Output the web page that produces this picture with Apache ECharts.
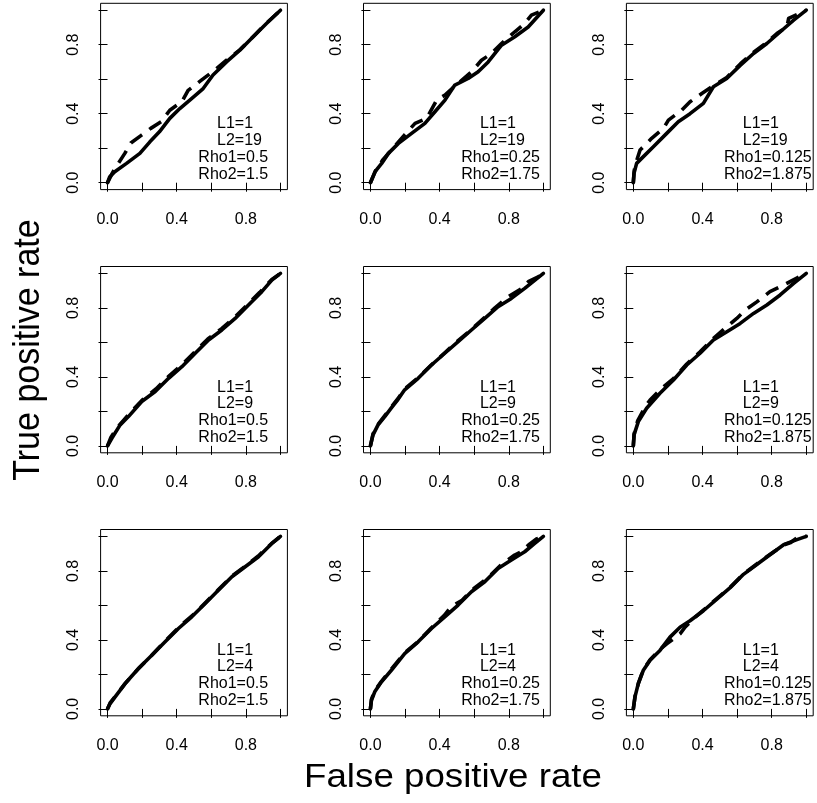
<!DOCTYPE html>
<html>
<head>
<meta charset="utf-8">
<title>ROC curves</title>
<script src="https://cdn.jsdelivr.net/npm/echarts@6/dist/echarts.min.js"></script>
<style>
  html, body { margin: 0; padding: 0; background: #ffffff; }
  #chart { width: 817px; height: 803px; }
</style>
</head>
<body>
<div id="chart"></div>
<script>
// Simulation settings: rows vary L2, columns vary the Rho pair
const L1 = 1;
const L2Rows = [19, 9, 4];
const rho1Cols = [0.5, 0.25, 0.125];
const rho2Cols = [1.5, 1.75, 1.875];

// Axis ticks and the subset that carries a label
const tickValues = [0, 0.2, 0.4, 0.6, 0.8, 1];
const tickLabelValues = [0, 0.4, 0.8];

// ROC points as [false positive rate, true positive rate]
// Row 1: L2 = 19
const rocL19Rho050Solid = [[0,0],[0.013,0.035],[0.042,0.064],[0.11,0.112],[0.187,0.17],[0.245,0.237],[0.30,0.295],[0.36,0.373],[0.418,0.43],[0.486,0.488],[0.553,0.546],[0.61,0.624],[0.688,0.70],[0.765,0.768],[0.842,0.846],[0.919,0.923],[1,1]];
const rocL19Rho050Dashed = [[0,0],[0.03,0.06],[0.062,0.112],[0.1,0.17],[0.135,0.23],[0.197,0.276],[0.25,0.315],[0.31,0.353],[0.36,0.42],[0.43,0.47],[0.466,0.535],[0.543,0.595],[0.61,0.645],[0.688,0.71],[0.765,0.77],[0.842,0.846],[0.919,0.925],[1,1]];
const rocL19Rho025Solid = [[0,0],[0.027,0.064],[0.065,0.112],[0.104,0.17],[0.162,0.228],[0.238,0.286],[0.315,0.344],[0.373,0.411],[0.431,0.479],[0.488,0.566],[0.565,0.604],[0.623,0.643],[0.681,0.70],[0.758,0.797],[0.835,0.846],[0.912,0.903],[1,1]];
const rocL19Rho025Dashed = [[0,0],[0.03,0.07],[0.07,0.13],[0.13,0.2],[0.2,0.28],[0.258,0.344],[0.325,0.373],[0.383,0.479],[0.431,0.508],[0.5,0.57],[0.585,0.643],[0.642,0.71],[0.7,0.749],[0.758,0.807],[0.835,0.875],[0.892,0.923],[0.931,0.971],[1,1]];
const rocL19Rho0125Solid = [[0,0],[0.004,0.054],[0.019,0.112],[0.048,0.141],[0.116,0.208],[0.193,0.286],[0.26,0.353],[0.328,0.40],[0.405,0.46],[0.463,0.556],[0.54,0.604],[0.618,0.68],[0.695,0.749],[0.772,0.807],[0.85,0.875],[0.927,0.942],[1,1]];
const rocL19Rho0125Dashed = [[0,0],[0.005,0.07],[0.02,0.13],[0.039,0.19],[0.07,0.22],[0.106,0.257],[0.174,0.315],[0.203,0.363],[0.28,0.421],[0.328,0.469],[0.396,0.517],[0.46,0.56],[0.54,0.61],[0.62,0.69],[0.7,0.76],[0.78,0.82],[0.83,0.865],[0.888,0.903],[0.898,0.952],[1,1]];

// Row 2: L2 = 9
const rocL9Rho050Solid = [[0,0],[0.025,0.044],[0.073,0.122],[0.121,0.17],[0.198,0.257],[0.276,0.315],[0.353,0.392],[0.43,0.459],[0.507,0.537],[0.584,0.614],[0.661,0.672],[0.738,0.739],[0.815,0.817],[0.892,0.894],[0.95,0.961],[1,1]];
const rocL9Rho050Dashed = [[0,0],[0.02,0.05],[0.06,0.11],[0.12,0.18],[0.2,0.265],[0.28,0.33],[0.35,0.4],[0.43,0.47],[0.5,0.54],[0.58,0.62],[0.66,0.68],[0.74,0.75],[0.8,0.81],[0.88,0.89],[0.95,0.965],[1,1]];
const rocL9Rho025Solid = [[0,0],[0.015,0.064],[0.044,0.122],[0.083,0.17],[0.121,0.22],[0.16,0.27],[0.198,0.325],[0.276,0.392],[0.353,0.469],[0.43,0.537],[0.507,0.604],[0.584,0.672],[0.661,0.739],[0.738,0.807],[0.815,0.855],[0.892,0.913],[1,1]];
const rocL9Rho025Dashed = [[0,0],[0.015,0.07],[0.044,0.125],[0.083,0.175],[0.121,0.225],[0.16,0.275],[0.198,0.33],[0.276,0.395],[0.353,0.47],[0.43,0.54],[0.507,0.61],[0.584,0.675],[0.661,0.745],[0.72,0.8],[0.797,0.865],[0.875,0.913],[0.913,0.952],[0.97,0.98],[1,1]];
const rocL9Rho0125Solid = [[0,0],[0.004,0.064],[0.029,0.141],[0.077,0.218],[0.154,0.305],[0.232,0.382],[0.309,0.469],[0.386,0.537],[0.463,0.614],[0.541,0.662],[0.618,0.71],[0.695,0.768],[0.772,0.817],[0.849,0.875],[0.927,0.942],[1,1]];
const rocL9Rho0125Dashed = [[0,0],[0.005,0.07],[0.025,0.145],[0.07,0.23],[0.097,0.266],[0.164,0.334],[0.232,0.39],[0.309,0.475],[0.386,0.545],[0.46,0.62],[0.54,0.69],[0.598,0.739],[0.647,0.787],[0.714,0.835],[0.79,0.894],[0.85,0.923],[0.92,0.96],[1,1]];

// Row 3: L2 = 4
const rocL4Rho050Solid = [[0,0],[0.015,0.031],[0.044,0.07],[0.102,0.147],[0.179,0.234],[0.256,0.311],[0.333,0.389],[0.41,0.466],[0.487,0.534],[0.565,0.611],[0.642,0.689],[0.719,0.766],[0.796,0.824],[0.873,0.882],[0.95,0.959],[1,1]];
const rocL4Rho050Dashed = [[0,0],[0.015,0.035],[0.05,0.08],[0.1,0.145],[0.18,0.235],[0.26,0.315],[0.33,0.39],[0.42,0.48],[0.5,0.55],[0.57,0.62],[0.64,0.69],[0.72,0.77],[0.8,0.83],[0.87,0.885],[0.95,0.96],[1,1]];
const rocL4Rho025Solid = [[0,0],[0.006,0.05],[0.025,0.099],[0.064,0.157],[0.121,0.224],[0.198,0.321],[0.276,0.389],[0.353,0.466],[0.43,0.534],[0.507,0.602],[0.584,0.679],[0.661,0.737],[0.738,0.814],[0.815,0.863],[0.892,0.911],[0.95,0.959],[1,1]];
const rocL4Rho025Dashed = [[0,0],[0.006,0.055],[0.025,0.105],[0.064,0.16],[0.121,0.23],[0.198,0.325],[0.276,0.39],[0.353,0.47],[0.43,0.545],[0.468,0.594],[0.53,0.63],[0.6,0.7],[0.68,0.76],[0.75,0.83],[0.834,0.892],[0.873,0.911],[0.92,0.955],[0.96,0.985],[1,1]];
const rocL4Rho0125Solid = [[0,0],[0.01,0.071],[0.029,0.148],[0.058,0.224],[0.097,0.282],[0.154,0.339],[0.212,0.416],[0.27,0.473],[0.328,0.511],[0.405,0.569],[0.483,0.636],[0.56,0.703],[0.637,0.78],[0.714,0.837],[0.792,0.895],[0.869,0.952],[0.946,0.981],[1,1]];
const rocL4Rho0125Dashed = [[0,0],[0.01,0.075],[0.03,0.15],[0.058,0.228],[0.097,0.285],[0.154,0.345],[0.193,0.377],[0.27,0.435],[0.3,0.475],[0.35,0.525],[0.405,0.572],[0.483,0.64],[0.56,0.705],[0.637,0.782],[0.714,0.84],[0.792,0.897],[0.869,0.95],[0.91,0.965],[0.95,0.995],[1,1]];

// Panels in reading order (row by row)
const panelCurves = [
  [rocL19Rho050Solid, rocL19Rho050Dashed],
  [rocL19Rho025Solid, rocL19Rho025Dashed],
  [rocL19Rho0125Solid, rocL19Rho0125Dashed],
  [rocL9Rho050Solid, rocL9Rho050Dashed],
  [rocL9Rho025Solid, rocL9Rho025Dashed],
  [rocL9Rho0125Solid, rocL9Rho0125Dashed],
  [rocL4Rho050Solid, rocL4Rho050Dashed],
  [rocL4Rho025Solid, rocL4Rho025Dashed],
  [rocL4Rho0125Solid, rocL4Rho0125Dashed]
];

const FONT = "'Liberation Sans', Arial, Helvetica, sans-serif";
const INK = '#000000';

// Panel frames (pixels); axes run 4% past [0, 1] on both ends
const colLeft = [100.6, 363.5, 626.4];
const rowTop = [3.3, 266.5, 529.5];
const panelW = 186.8;
const panelH = 186.3;
const axisMin = -0.04;
const axisMax = 1.04;

const chart = echarts.init(document.getElementById('chart'), null, { renderer: 'canvas' });

const grids = [], xAxes = [], yAxes = [], series = [];
for (let r = 0; r < 3; r++) {
  for (let c = 0; c < 3; c++) {
    const i = r * 3 + c;
    grids.push({
      left: colLeft[c], top: rowTop[r], width: panelW, height: panelH,
      show: true, borderColor: INK, borderWidth: 1, backgroundColor: 'transparent',
      containLabel: false
    });
    const axisCommon = {
      type: 'value', gridIndex: i, min: axisMin, max: axisMax,
      axisLine: { show: false },
      splitLine: { show: false },
      axisTick: {
        show: true, inside: false, length: 9,
        customValues: tickValues,
        lineStyle: { color: INK, width: 1 }
      },
      axisLabel: {
        show: true, customValues: tickLabelValues,
        color: INK, fontSize: 16, fontFamily: FONT,
        formatter: v => Number(v).toFixed(1)
      }
    };
    xAxes.push(Object.assign({}, axisCommon, {
      position: 'bottom',
      axisLabel: Object.assign({}, axisCommon.axisLabel, { margin: 22 })
    }));
    yAxes.push(Object.assign({}, axisCommon, {
      position: 'left',
      axisLabel: Object.assign({}, axisCommon.axisLabel, { margin: 19, rotate: 90 })
    }));
    const [solid, dashed] = panelCurves[i];
    series.push({
      type: 'line', xAxisIndex: i, yAxisIndex: i, data: solid,
      showSymbol: false, symbol: 'none', smooth: false, silent: true,
      lineStyle: { color: INK, width: 3.6, type: 'solid', cap: 'round', join: 'round' }
    });
    series.push({
      type: 'line', xAxisIndex: i, yAxisIndex: i, data: dashed,
      showSymbol: false, symbol: 'none', smooth: false, silent: true,
      lineStyle: { color: INK, width: 3.6, type: [14, 9], cap: 'butt', join: 'round' }
    });
  }
}

chart.setOption({
  animation: false,
  backgroundColor: '#ffffff',
  grid: grids,
  xAxis: xAxes,
  yAxis: yAxes,
  series: series
});

// Parameter notes in the lower right of each panel, anchored in data units
const noteRows = [0.34, 0.243, 0.146, 0.049];
const noteXL = 0.633;
const noteXRho = 0.525;
const graphics = [];
for (let r = 0; r < 3; r++) {
  for (let c = 0; c < 3; c++) {
    const i = r * 3 + c;
    const lines = [
      { x: noteXL, text: 'L1=' + L1 },
      { x: noteXL, text: 'L2=' + L2Rows[r] },
      { x: noteXRho, text: 'Rho1=' + rho1Cols[c] },
      { x: noteXRho, text: 'Rho2=' + rho2Cols[c] }
    ];
    lines.forEach((ln, k) => {
      const p = chart.convertToPixel({ gridIndex: i }, [ln.x, noteRows[k]]);
      graphics.push({
        type: 'text', x: p[0], y: p[1], silent: true,
        style: {
          text: ln.text, fill: INK, font: '16px ' + FONT,
          textAlign: 'left', textVerticalAlign: 'middle'
        }
      });
    });
  }
}

// Shared axis titles
graphics.push({
  type: 'text', x: 453, y: 778, scaleX: 1.08, silent: true,
  style: {
    text: 'False positive rate', fill: INK, font: '34px ' + FONT,
    textAlign: 'center', textVerticalAlign: 'middle'
  }
});
graphics.push({
  type: 'text', x: 29, y: 350, rotation: Math.PI / 2, scaleY: 1.08, silent: true,
  style: {
    text: 'True positive rate', fill: INK, font: '34px ' + FONT,
    textAlign: 'center', textVerticalAlign: 'middle'
  }
});

chart.setOption({ graphic: graphics });
</script>
</body>
</html>
